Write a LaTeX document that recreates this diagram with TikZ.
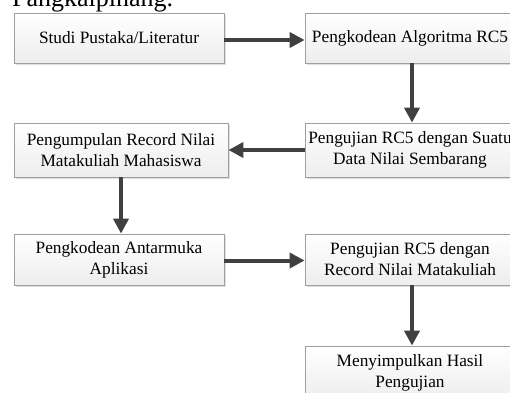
\documentclass[tikz,border=0pt]{standalone}
\usepackage{fontspec}
\setmainfont{Liberation Serif}
\usetikzlibrary{arrows.meta,shadows}
\tikzset{
  pbox/.style={draw=gray!75, line width=0.8pt, top color=white, bottom color=gray!14,
    minimum width=210pt, minimum height=50pt, align=center, inner sep=2pt,
    font=\fontsize{17.3pt}{21pt}\selectfont, text=black,
    drop shadow={shadow xshift=1.5pt, shadow yshift=-1.5pt, fill=gray!35, opacity=0.7}},
  conn/.style={draw=black!75, line width=4pt, -{Triangle[length=15pt,width=15pt]}}
}
\begin{document}
\begin{tikzpicture}[x=1pt,y=-1pt]
\useasboundingbox (0,0) rectangle (510,392);
\clip (0,0) rectangle (510,392);
\node[anchor=base west, font=\fontsize{26pt}{30pt}\selectfont, inner sep=0pt] (title) at (12,6) {Pangkalpinang.};
\node[pbox, minimum width=210pt, minimum height=50pt] (b1) at (119,38) {Studi Pustaka/Literatur};
\node[pbox, minimum width=210pt, minimum height=50pt] (b2) at (410,38) {Pengkodean Algoritma RC5};
\node[pbox, minimum width=214pt, minimum height=54pt] (b3) at (121,150) {Pengumpulan Record Nilai\\Matakuliah Mahasiswa};
\node[pbox, minimum width=210pt, minimum height=54pt] (b4) at (410,150) {Pengujian RC5 dengan Suatu\\Data Nilai Sembarang};
\node[pbox, minimum width=210pt, minimum height=51pt] (b5) at (119,259.5) {Pengkodean Antarmuka\\Aplikasi};
\node[pbox, minimum width=210pt, minimum height=51pt] (b6) at (410,259.5) {Pengujian RC5 dengan\\Record Nilai Matakuliah};
\node[pbox, minimum width=210pt, minimum height=54pt] (b7) at (410,373) {Menyimpulkan Hasil\\Pengujian};
\draw[conn] ([yshift=-2pt]b1.east) -- ([yshift=-2pt]b2.west);
\draw[conn] ([xshift=2pt]b2.south) -- ([xshift=2pt]b4.north);
\draw[conn] (b4.west) -- (b3.east);
\draw[conn] (b3.south) -- (b3.south |- b5.north);
\draw[conn] ([yshift=-1pt]b5.east) -- ([yshift=-1pt]b6.west);
\draw[conn] ([xshift=2pt]b6.south) -- ([xshift=2pt]b7.north);
\end{tikzpicture}
\end{document}
